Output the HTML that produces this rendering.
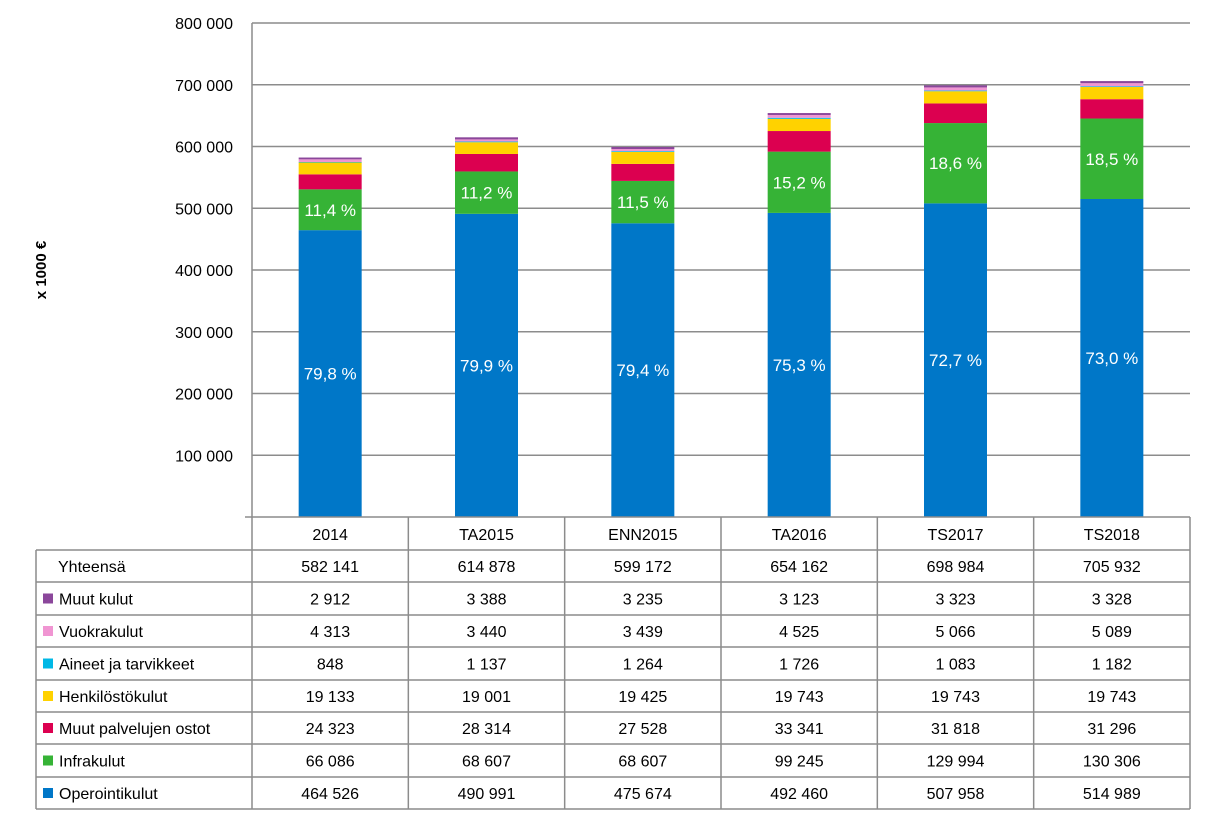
<!DOCTYPE html>
<html><head><meta charset="utf-8"><style>
body{margin:0;background:#fff;}
svg text{font-family:"Liberation Sans",sans-serif;}
</style></head><body>
<svg id="c" width="1212" height="820"></svg>
<script>
const categories=["2014","TA2015","ENN2015","TA2016","TS2017","TS2018"];
const seriesNames=["Operointikulut","Infrakulut","Muut palvelujen ostot","Henkilöstökulut","Aineet ja tarvikkeet","Vuokrakulut","Muut kulut"];
const seriesColors=["#0077c8","#36b336","#dc0050","#ffd200","#00b8e6","#f095d2","#8b479b"];
const operointi=[464526,490991,475674,492460,507958,514989];
const infra=[66086,68607,68607,99245,129994,130306];
const muutPalv=[24323,28314,27528,33341,31818,31296];
const henk=[19133,19001,19425,19743,19743,19743];
const aineet=[848,1137,1264,1726,1083,1182];
const vuokra=[4313,3440,3439,4525,5066,5089];
const muut=[2912,3388,3235,3123,3323,3328];
const totals=["582 141","614 878","599 172","654 162","698 984","705 932"];
const opPct=["79,8 %","79,9 %","79,4 %","75,3 %","72,7 %","73,0 %"];
const infraPct=["11,4 %","11,2 %","11,5 %","15,2 %","18,6 %","18,5 %"];
const yTicks=[100000,200000,300000,400000,500000,600000,700000,800000];
const series=[operointi,infra,muutPalv,henk,aineet,vuokra,muut];

const svg=document.getElementById('c');const NS="http://www.w3.org/2000/svg";
function el(t,a,p){const e=document.createElementNS(NS,t);for(const k in a)e.setAttribute(k,a[k]);(p||svg).appendChild(e);return e;}
const x0=252,x1=1190,yTop=23,yZero=517,colW=(x1-x0)/6;
const y=v=>yZero-(v/800000)*(yZero-yTop);
const fmt=n=>String(n).replace(/\B(?=(\d{3})+(?!\d))/g," ");
// grid
yTicks.forEach(t=>{const g=el('line',{x1:x0,x2:x1,y1:y(t),y2:y(t),stroke:'#8c8c8c','stroke-width':1.5});

const tx=el('text',{x:233,y:y(t)+6,'text-anchor':'end','font-size':16,fill:'#000'});tx.textContent=fmt(t);
});
el('line',{x1:x0,x2:x0,y1:yTop,y2:yZero,stroke:'#8c8c8c','stroke-width':1.5});
el('line',{x1:245,x2:x0,y1:yZero,y2:yZero,stroke:'#8c8c8c','stroke-width':1.5});
const yt=el('text',{transform:'translate(46,270) rotate(-90)','text-anchor':'middle','font-size':15,'font-weight':'bold'});yt.textContent='x 1000 €';

// bars
categories.forEach((c,i)=>{const cx=x0+colW*(i+0.5);let acc=0;
series.forEach((s,j)=>{const r=el('rect',{x:cx-31.5,width:63,y:y(acc+s[i]),height:y(acc)-y(acc+s[i]),fill:seriesColors[j]});
acc+=s[i];});
const t1=el('text',{x:cx,y:(y(0)+y(operointi[i]))/2+6,'text-anchor':'middle','font-size':17,fill:'#fff'});t1.textContent=opPct[i];

const t2=el('text',{x:cx,y:(y(operointi[i])+y(operointi[i]+infra[i]))/2+6,'text-anchor':'middle','font-size':17,fill:'#fff'});t2.textContent=infraPct[i];
});
// table
const rowsY=[517,550,582,615,647,680,712,744,777,809];
const L=36,st={stroke:'#8c8c8c','stroke-width':1.5};
rowsY.forEach((ry,k)=>el('line',Object.assign({x1:k<2?(k==0?x0:L):L,x2:x1,y1:ry,y2:ry},st)));
el('line',Object.assign({x1:L,x2:L,y1:550,y2:809},st));
for(let i=0;i<=6;i++)el('line',Object.assign({x1:x0+colW*i,x2:x0+colW*i,y1:517,y2:809},st));
categories.forEach((c,i)=>{const t=el('text',{x:x0+colW*(i+0.5),y:540,'text-anchor':'middle','font-size':16});t.textContent=c;
});
const rowLabels=["Yhteensä"].concat(seriesNames.slice().reverse());
const rowVals=[totals].concat(series.slice().reverse().map(s=>s.map(fmt)));
const rowCols=[null].concat(seriesColors.slice().reverse());
rowLabels.forEach((lab,r)=>{const cy=(rowsY[r+1]+rowsY[r+2])/2;
if(rowCols[r]){const sq=el('rect',{x:43,y:cy-5,width:10,height:10,fill:rowCols[r]});}
const t=el('text',{x:r==0?58:59,y:cy+6,'font-size':16});t.textContent=lab;

rowVals[r].forEach((v,i)=>{const tv=el('text',{x:x0+colW*(i+0.5),y:cy+6,'text-anchor':'middle','font-size':16});tv.textContent=v;
});});
</script>
</body></html>
